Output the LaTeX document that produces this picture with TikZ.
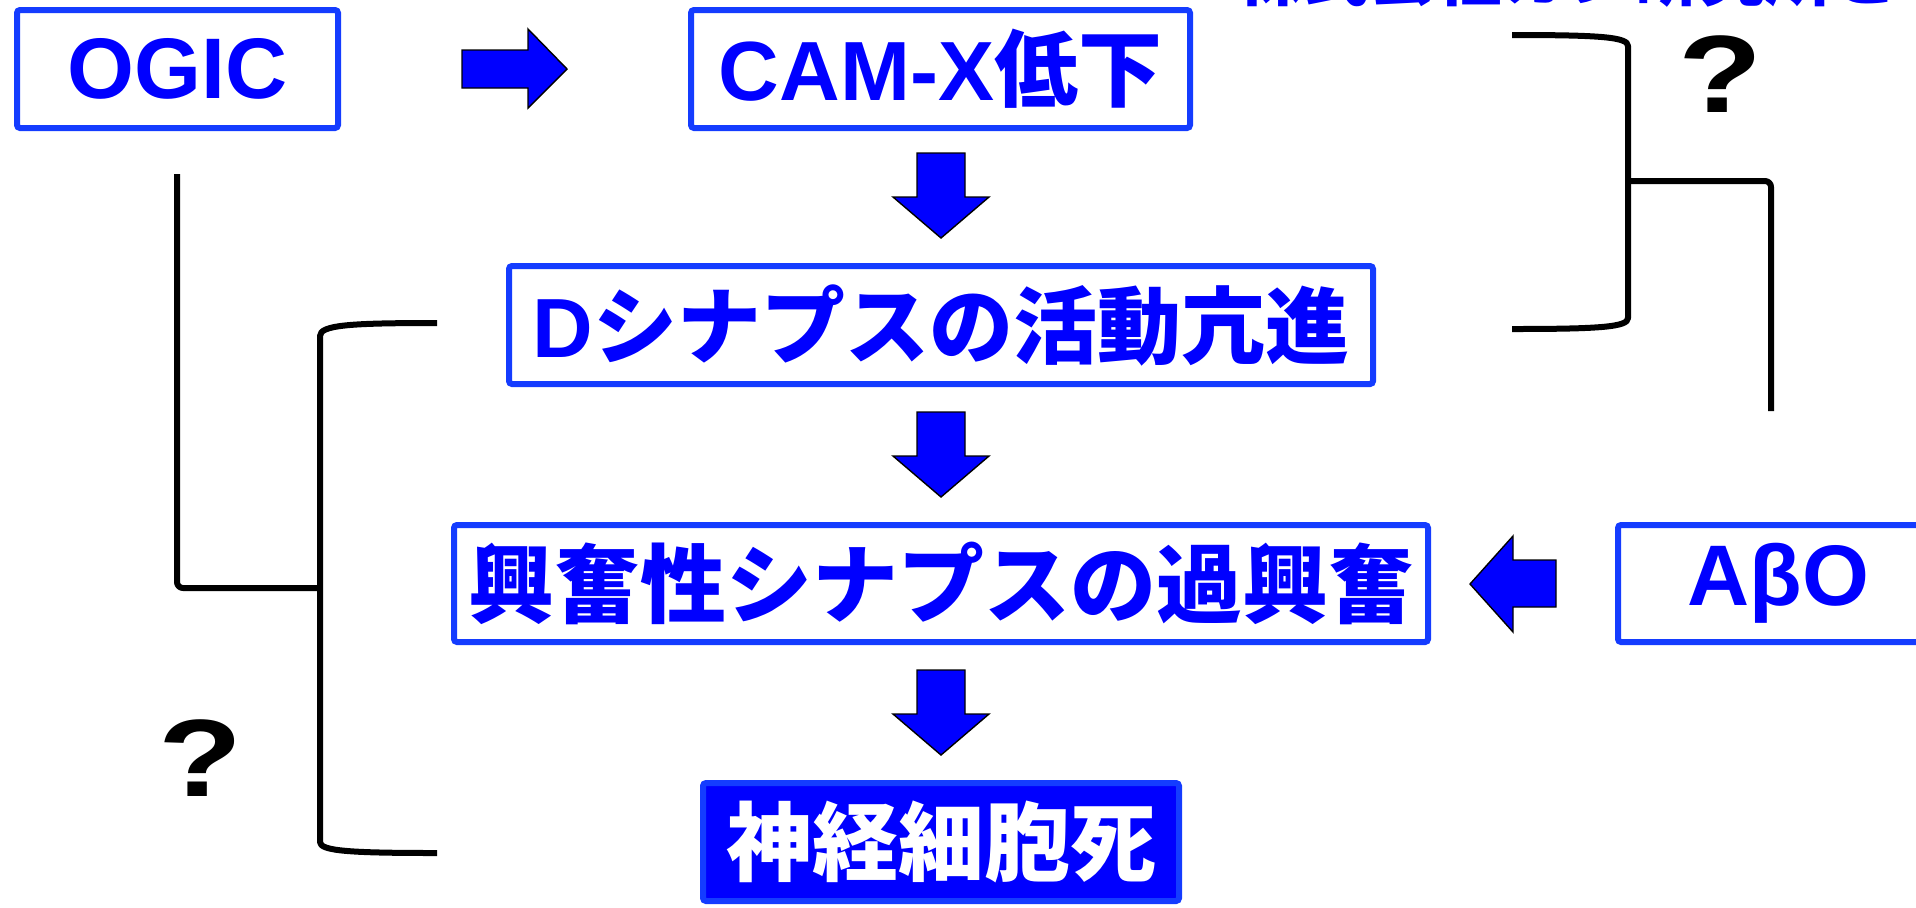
\documentclass[tikz,border=0pt]{standalone}
\usepackage{fontspec}
\setmainfont{Liberation Sans}
\newfontfamily\jpfont{Noto Sans CJK JP}
\definecolor{bordblue}{RGB}{20,60,255}
\definecolor{txtblue}{RGB}{0,0,255}
\definecolor{arrblue}{RGB}{0,0,255}
\begin{document}
\begin{tikzpicture}[x=0.5pt,y=-0.5pt,
  box/.style={draw=bordblue, line width=3pt, rounded corners=1.5pt, fill=white,
    inner sep=0pt, text=txtblue},
  fs/.style={font=\fontsize{#1}{#1}\selectfont\bfseries},
  bracket/.style={line width=3pt, line join=round},
  blockarrow/.style={fill=arrblue, draw=black, line width=0.7pt, line join=miter},
  qmark/.style={font=\fontsize{55}{55}\selectfont\bfseries, xscale=1.25, inner sep=0pt}
]
\useasboundingbox (0,0) rectangle (1916,907);
\clip (0,0) rectangle (1916,907);

% partially visible heading at the top edge
\node[anchor=base west, inner sep=0pt, text=txtblue, font=\fontsize{33}{33}\selectfont\bfseries\jpfont] (head) at (1237,0) {株式会社カン研究所との共同研究};

% boxes
\node[box, minimum width=160.5pt, minimum height=59pt, fs=43] (ogic) at (177.5,69) {OGIC};
\node[box, minimum width=249.5pt, minimum height=59pt, fs=42] (cam) at (940.5,69) {CAM-X{\jpfont 低下}};
\node[box, minimum width=432pt, minimum height=59pt, fs=42] (dsyn) at (941,325) {D{\jpfont シナプスの活動亢進}};
\node[box, minimum width=487pt, minimum height=58.5pt, fs=43] (exc) at (941,583.5) {\jpfont 興奮性シナプスの過興奮};
\node[box, fill=arrblue, text=white, minimum width=238pt, minimum height=59pt, fs=43] (death) at (941,842) {\jpfont 神経細胞死};
\node[box, minimum width=160.5pt, minimum height=58.5pt, fs=43] (abo) at (1778.5,583.5) {AβO};

% block arrows
\draw[blockarrow] (462,50) -- (528,50) -- (528,29) -- (567,69) -- (528,108) -- (528,88) -- (462,88) -- cycle;
\foreach \t/\h/\e in {153/197/238, 412/456/497, 670/714/755}{
  \draw[blockarrow] (917,\t) -- (965,\t) -- (965,\h) -- (989,\h) -- (941,\e) -- (893,\h) -- (917,\h) -- cycle;
}
\draw[blockarrow] (1556,560) -- (1513,560) -- (1513,536) -- (1470,584) -- (1513,632) -- (1513,607) -- (1556,607) -- cycle;

% left bracket
\coordinate (lbt) at (437,323);
\coordinate (lbb) at (437,853);
\coordinate (lbj) at (320,588);
\coordinate (ogl) at (177,174);
\draw[bracket] (lbt) .. controls (350,323) and (320,325) .. (320,336) -- (320,842) .. controls (320,851) and (350,853) .. (lbb);
\draw[bracket, rounded corners=3pt] (ogl) -- (177,588) -- (lbj);
\node[qmark] (q1) at (200,758) {?};

% right bracket
\coordinate (rbt) at (1512,35);
\coordinate (rbb) at (1512,329);
\coordinate (rbj) at (1628,181);
\coordinate (rbe) at (1771,411);
\draw[bracket] (rbt) .. controls (1600,35) and (1628,37) .. (1628,46) -- (1628,318) .. controls (1628,327) and (1600,329) .. (rbb);
\draw[bracket, rounded corners=3pt] (rbj) -- (1771,181) -- (rbe);
\node[qmark] (q2) at (1720,74) {?};
\end{tikzpicture}
\end{document}
